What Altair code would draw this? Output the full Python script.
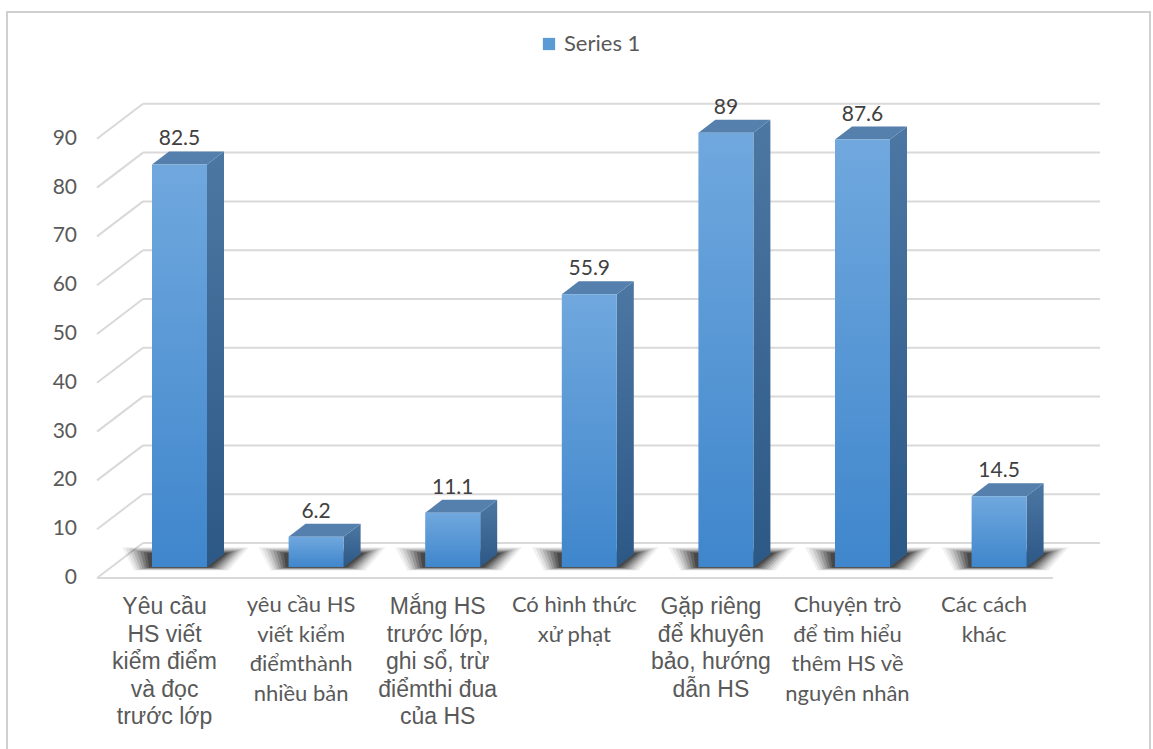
import altair as alt
import pandas as pd

# ---- data -------------------------------------------------------------
CATEGORIES = [
    "Yêu cầu\nHS viết\nkiểm điểm\nvà đọc\ntrước lớp",
    "yêu cầu HS\nviết kiểm\nđiểmthành\nnhiều bản",
    "Mắng HS\ntrước lớp,\nghi sổ, trừ\nđiểmthi đua\ncủa HS",
    "Có hình thức\nxử phạt",
    "Gặp riêng\nđể khuyên\nbảo, hướng\ndẫn HS",
    "Chuyện trò\nđể tìm hiểu\nthêm HS về\nnguyên nhân",
    "Các cách\nkhác",
]
VALUES = [82.5, 6.2, 11.1, 55.9, 89, 87.6, 14.5]
Y_TICKS = [0, 10, 20, 30, 40, 50, 60, 70, 80, 90]
SERIES = ["Series 1"]

# ---- layout (x in category-index units, y in value units) -------------
W, H = 1153, 749
X_PX0, X_STEP = 179.5, 136.6      # pixel of category 0, pixels per category
Y_PX0, Y_STEP = 567.0, 4.88       # pixel of value 0, pixels per unit
X_DOMAIN = [-X_PX0 / X_STEP, (W - X_PX0) / X_STEP]
Y_DOMAIN = [(Y_PX0 - H) / Y_STEP, Y_PX0 / Y_STEP]

HALF = 27.5 / X_STEP              # half bar width
BAR_DX, BAR_DY = 17 / X_STEP, 13 / Y_STEP   # bar depth (oblique projection)
FLOOR_Y = -11 / Y_STEP            # front edge of the floor
WALL_Y = 24 / Y_STEP              # foot of the back wall
FLOOR_X0, FLOOR_X1 = (97 - X_PX0) / X_STEP, (1053 - X_PX0) / X_STEP
WALL_X0, WALL_X1 = (143 - X_PX0) / X_STEP, (1100 - X_PX0) / X_STEP
LABEL_SHIFT = -15 / X_STEP
ARIAL_LABELS = {0, 2, 4}

GRID = "#d9d9d9"
TEXT = "#595959"

xs = alt.Scale(domain=X_DOMAIN, nice=False, zero=False)
ys = alt.Scale(domain=Y_DOMAIN, nice=False, zero=False)


def X(field):
    return alt.X(field, type="quantitative", scale=xs, axis=None, stack=None)


def Y(field):
    return alt.Y(field, type="quantitative", scale=ys, axis=None, stack=None)


idx = list(range(len(VALUES)))
bars = pd.DataFrame({"i": idx, "v": VALUES, "label": CATEGORIES})
bars["x0"] = bars["i"] - HALF
bars["x1"] = bars["i"] + HALF
bars["base"] = 0.0

# ---- frame ------------------------------------------------------------
one = pd.DataFrame({"k": [0]})
frame = alt.Chart(one).mark_rect(
    fill="white", fillOpacity=0, stroke="#d0d0d0", strokeWidth=2
).encode(x=alt.value(7), x2=alt.value(1150), y=alt.value(12), y2=alt.value(770))

# ---- walls and floor -------------------------------------------------
grid = pd.DataFrame({"v": Y_TICKS})
grid["wy"] = grid["v"] + WALL_Y
grid["fy"] = grid["v"] + FLOOR_Y
grid["wx0"] = WALL_X0
grid["wx1"] = WALL_X1
grid["fx0"] = FLOOR_X0

back_wall = alt.Chart(grid).mark_rule(color=GRID, strokeWidth=2).encode(
    x=X("wx0"), x2="wx1", y=Y("wy")
)
side_wall = alt.Chart(grid).mark_rule(color=GRID, strokeWidth=2).encode(
    x=X("fx0"), x2="wx0", y=Y("fy"), y2="wy"
)
floor_edge = alt.Chart(
    pd.DataFrame({"x0": [FLOOR_X0], "x1": [FLOOR_X1], "y": [FLOOR_Y]})
).mark_rule(color=GRID, strokeWidth=2).encode(x=X("x0"), x2="x1", y=Y("y"))

# ---- soft floor shadows: nested translucent rings around each bar foot ---
SHADOW_RINGS = [
    (1.00, 0.06), (0.88, 0.08), (0.76, 0.10), (0.64, 0.13),
    (0.52, 0.16), (0.40, 0.20), (0.28, 0.24), (0.16, 0.30),
]
shadow_layers = []
for level, (t, op) in enumerate(SHADOW_RINGS):
    rows = []
    for i in idx:
        # front edge of the ring (just in front of the bar foot)
        rows.append({
            "key": f"{level}-{i}",
            "y": -0.7 * t,
            "x0": i - HALF - 18 * t / X_STEP,
            "x1": i + HALF + 22 * t / X_STEP,
        })
        # back edge of the ring (behind the bar, spreading wider)
        rows.append({
            "key": f"{level}-{i}",
            "y": BAR_DY + 1.4 * t,
            "x0": i - HALF - 30 * t / X_STEP,
            "x1": i + HALF + (17 + 25 * t) / X_STEP,
        })
    shadow_layers.append(
        alt.Chart(pd.DataFrame(rows)).mark_area(
            orient="horizontal", color="#111111", opacity=op
        ).encode(y=Y("y"), x=X("x0"), x2="x1", detail="key:N")
    )

# ---- bars: side, top and front faces ----------------------------------
side_rows, top_rows = [], []
for i, v in zip(idx, VALUES):
    side_rows += [
        {"i": i, "x": i + HALF, "lo": 0.0, "hi": v},
        {"i": i, "x": i + HALF + BAR_DX, "lo": BAR_DY, "hi": v + BAR_DY},
    ]
    top_rows += [
        {"i": i, "y": v, "x0": i - HALF, "x1": i + HALF},
        {"i": i, "y": v + BAR_DY, "x0": i - HALF + BAR_DX, "x1": i + HALF + BAR_DX},
    ]

side = alt.Chart(pd.DataFrame(side_rows)).mark_area(
    color=alt.Gradient(
        gradient="linear", x1=0, y1=0, x2=0, y2=1,
        stops=[alt.GradientStop(color="#4d77a3", offset=0),
               alt.GradientStop(color="#2c5886", offset=1)],
    )
).encode(x=X("x"), y=Y("hi"), y2="lo", detail="i:N")

top = alt.Chart(pd.DataFrame(top_rows)).mark_area(
    orient="horizontal", color="#557fac"
).encode(y=Y("y"), x=X("x0"), x2="x1", detail="i:N")

front = alt.Chart(bars).mark_rect(
    color=alt.Gradient(
        gradient="linear", x1=0, y1=0, x2=0, y2=1,
        stops=[alt.GradientStop(color="#70a8de", offset=0),
               alt.GradientStop(color="#3f86cc", offset=1)],
    )
).encode(x=X("x0"), x2="x1", y=Y("v"), y2="base")

values = alt.Chart(bars).mark_text(
    font="Lato", fontSize=21, color="#404040", baseline="alphabetic", dy=-19
).encode(x=X("i"), y=Y("v"), text=alt.Text("v:Q", format="~g"))

# ---- value axis labels on the front edge -------------------------------
ticks = pd.DataFrame({"v": Y_TICKS})
ticks["y"] = ticks["v"] + FLOOR_Y
ticks["x"] = FLOOR_X0
tick_labels = alt.Chart(ticks).mark_text(
    font="Lato", fontSize=21, color=TEXT, align="right", baseline="middle", dx=-20
).encode(x=X("x"), y=Y("y"), text="v:Q")

# ---- category labels ----------------------------------------------------
bars["lx"] = bars["i"] + LABEL_SHIFT
big = bars[bars["i"].isin(ARIAL_LABELS)]
small = bars[~bars["i"].isin(ARIAL_LABELS)]
cat_big = alt.Chart(big).mark_text(
    font="Liberation Sans", fontSize=23, lineHeight=27.5, color=TEXT,
    align="center", baseline="top", lineBreak="\n"
).encode(x=X("lx"), y=alt.value(596), text="label:N")
cat_small = alt.Chart(small).mark_text(
    font="Lato", fontSize=22, lineHeight=29.5, color=TEXT,
    align="center", baseline="top", lineBreak="\n"
).encode(x=X("lx"), y=alt.value(595), text="label:N")

# ---- legend ---------------------------------------------------------------
legend = alt.Chart(pd.DataFrame({"series": SERIES})).mark_square(
    size=0, opacity=1
).encode(
    x=alt.value(0), y=alt.value(0),
    color=alt.Color(
        "series:N",
        scale=alt.Scale(range=["#5b9bd5"]),
        legend=alt.Legend(
            title=None, orient="none", legendX=538, legendY=33,
            symbolType="square", symbolSize=150, symbolStrokeWidth=0,
            labelFont="Lato", labelFontSize=22, labelColor=TEXT,
        ),
    ),
)

chart = alt.layer(
    frame, back_wall, side_wall, floor_edge, *shadow_layers, side, top, front,
    values, tick_labels, cat_big, cat_small, legend,
).properties(
    width=W, height=H, autosize=alt.AutoSizeParams(type="none"), padding=0,
    background="white",
).configure_view(stroke=None)

chart.save("out.html", embed_options={"renderer": "svg", "actions": False})
